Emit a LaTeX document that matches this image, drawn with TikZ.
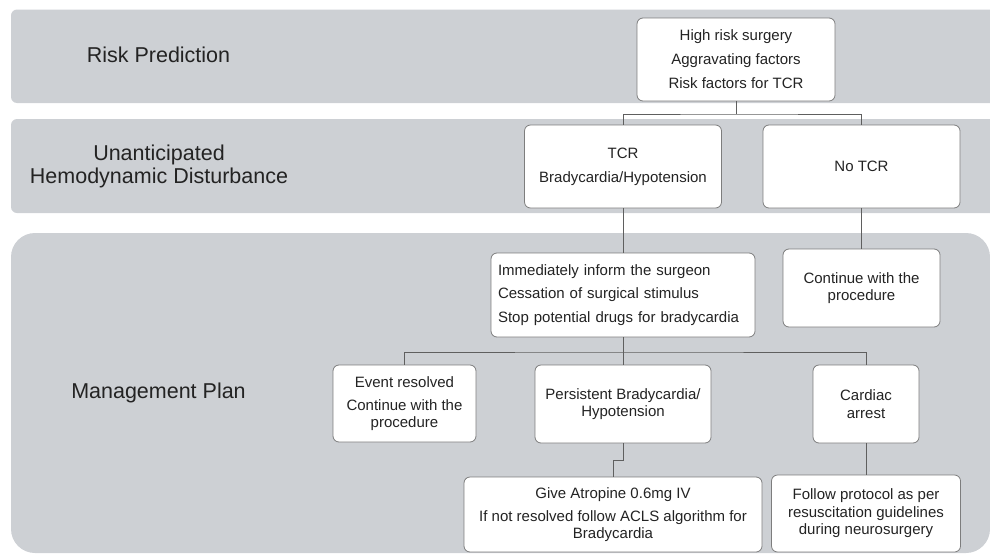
\documentclass[tikz,border=0pt]{standalone}
\usepackage{fontspec}
\setmainfont{Liberation Sans}
\definecolor{bandgray}{RGB}{205,208,212}
\definecolor{boxline}{RGB}{125,125,125}
\definecolor{wirecol}{RGB}{95,95,95}
\definecolor{txt}{RGB}{35,35,35}
\begin{document}
\begin{tikzpicture}[x=1pt,y=-1pt,
  card/.style={draw=boxline,fill=white,rounded corners=6pt,line width=0.8pt,
    inner sep=0pt,align=center,font=\fontsize{15}{17.5}\selectfont,text=txt},
  sidelabel/.style={font=\fontsize{21.5}{23}\selectfont,text=txt,align=center,inner sep=0pt},
  wire/.style={draw=wirecol,line width=1pt}]
\useasboundingbox (0,0) rectangle (990,554);
\clip (0,0) rectangle (990,554);
% bands
\fill[bandgray,rounded corners=6pt] (11,9.5) rectangle (1010,103);
\fill[bandgray,rounded corners=6pt] (11,119) rectangle (1010,213);
\fill[bandgray,rounded corners=24pt] (11,233) rectangle (990,553);
% side labels
\node[sidelabel] (lrisk) at (158.5,55) {Risk Prediction};
\node[sidelabel] (lhemo) at (159,166.5) {Unanticipated\\Hemodynamic Disturbance};
\node[sidelabel] (lman) at (158.5,393) {Management Plan};
% boxes
\node[card,minimum width=198pt,minimum height=83pt] (risk) at (736,59.5)
  {High risk surgery\\[6.5pt]Aggravating factors\\[6.5pt]Risk factors for TCR};
\node[card,minimum width=197pt,minimum height=83pt] (tcr) at (623,166.5)
  {TCR\\[6.5pt]Bradycardia/Hypotension};
\node[card,minimum width=197pt,minimum height=83pt] (notcr) at (861.5,166.5)
  {No TCR};
\node[card,minimum width=264pt,minimum height=84pt,text width=250pt,align=left,inner xsep=7pt] (imm) at (623,295)
  {Immediately inform the surgeon\\[6pt]Cessation of surgical stimulus\\[6pt]Stop potential drugs for bradycardia};
\node[card,minimum width=157pt,minimum height=78pt] (cont) at (861.5,288)
  {Continue with the\\procedure};
\node[card,minimum width=143pt,minimum height=77pt] (event) at (404.5,403.5)
  {Event resolved\\[5.5pt]Continue with the\\procedure};
\node[card,minimum width=176pt,minimum height=78pt] (pers) at (623,404)
  {Persistent Bradycardia/\\Hypotension};
\node[card,minimum width=106pt,minimum height=78pt] (card) at (866,404)
  {Cardiac\\arrest};
\node[card,minimum width=298pt,minimum height=75pt] (atro) at (613,514.5)
  {Give Atropine 0.6mg IV\\[5.5pt]If not resolved follow ACLS algorithm for\\Bradycardia};
\node[card,minimum width=189pt,minimum height=77pt] (follow) at (866,513.5)
  {Follow protocol as per\\resuscitation guidelines\\during neurosurgery};
% connectors
\coordinate (b1) at (736,114);
\draw[wire] (risk.south) -- (b1);
\draw[wire] (tcr.north) |- (b1) -| (notcr.north);
\draw[wire] (tcr.south) -- (imm.north);
\draw[wire] (notcr.south) -- (cont.north);
\coordinate (b2) at (623,352);
\draw[wire] (imm.south) -- (b2);
\draw[wire] (event.north) |- (b2) -| (card.north);
\draw[wire] (b2) -- (pers.north);
\coordinate (k) at (623,460);
\draw[wire] (pers.south) -- (k) -| (atro.north);
\draw[wire] (card.south) -- (follow.north);
\end{tikzpicture}
\end{document}
